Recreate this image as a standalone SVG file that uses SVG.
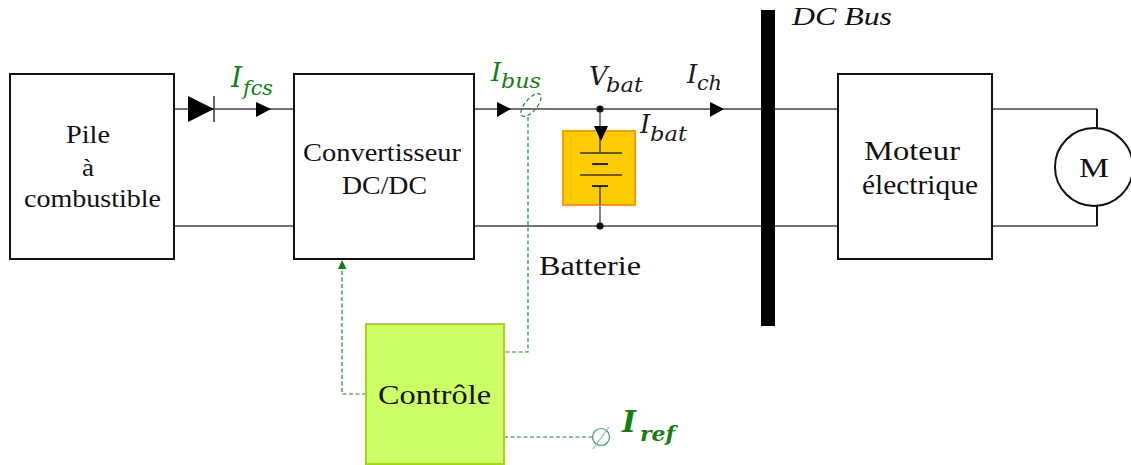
<svg xmlns="http://www.w3.org/2000/svg" width="1131" height="465" viewBox="0 0 1131 465">
<defs><style>
text{font-family:"Liberation Serif","Times New Roman",serif;fill:#111}
.box{fill:#fff;stroke:#111;stroke-width:2}
.lbl{font-size:26px}
.math{font-family:"DejaVu Serif","Liberation Serif",serif;font-style:italic;fill:#1a1a1a}
.g{fill:#118011}
.wire{fill:none;stroke:#444;stroke-width:1.3}
.dash{fill:none;stroke:#1b8a2a;stroke-width:1.2;stroke-dasharray:4 2.5}
.tri{fill:#000}
</style></defs>
<rect width="1131" height="465" fill="#fff"/>
<g id="connectors">
<path class="wire" d="M174 109H294M174 226H294M474 109H838M474 226H838M992 109H1097M992 226H1097"/>
<path d="M1097 109V128M1097 206V226" stroke="#111" stroke-width="2" fill="none"/>
<path class="wire" d="M600 109V226" stroke-width="1.5"/>
<path class="tri" d="M188 96L214 109L188 122Z"/>
<path d="M214 96V122" stroke="#333" stroke-width="1.5"/>
<path class="tri" d="M256 102L271 109L256 117Z"/>
<path class="tri" d="M497 102L511 109L497 117Z"/>
<path class="tri" d="M710 102L724 109L710 117Z"/>
<circle cx="600" cy="109" r="3.6" fill="#111"/>
<circle cx="600" cy="226" r="3.6" fill="#111"/>
<path class="dash" d="M528 117V352H504"/>
<ellipse class="dash" cx="531" cy="105" rx="6" ry="14" transform="rotate(40 531 105)"/>
<path class="dash" d="M366 394H342V268"/>
<path d="M338 269L342 260L346.500 269Z" fill="#118011"/>
<path class="dash" d="M504 437H593"/>
</g>
<g id="pile"><rect class="box" x="10" y="74" width="164" height="185"/>
<text class="lbl" x="66" y="143" textLength="44" lengthAdjust="spacingAndGlyphs">Pile</text><text class="lbl" x="82" y="176" textLength="12" lengthAdjust="spacingAndGlyphs">à</text><text class="lbl" x="24" y="207" textLength="137" lengthAdjust="spacingAndGlyphs">combustible</text></g>
<g id="convertisseur"><rect class="box" x="294" y="74" width="180" height="185"/>
<text class="lbl" x="303" y="161" textLength="158" lengthAdjust="spacingAndGlyphs">Convertisseur</text><text class="lbl" x="342" y="194" textLength="85" lengthAdjust="spacingAndGlyphs">DC/DC</text></g>
<g id="batterie"><rect x="563" y="131" width="72" height="74" fill="#ffcc00" stroke="#ff9900" stroke-width="2"/>
<path d="M600 131V153M600 187V205" stroke="#333" stroke-width="1.300"/>
<path d="M580 153H622M580 175H622" stroke="#333" stroke-width="1.300"/>
<path d="M592 164H608M592 186H608" stroke="#222" stroke-width="2"/>
<path class="tri" d="M594 126L608 126L601 141Z"/>
<text x="539" y="275" font-size="27" textLength="102" lengthAdjust="spacingAndGlyphs">Batterie</text></g>
<g id="bus"><rect x="761" y="10" width="14" height="316" fill="#000"/>
<text x="792" y="25" font-size="26" font-style="italic" textLength="100" lengthAdjust="spacingAndGlyphs">DC Bus</text></g>
<g id="moteur"><rect class="box" x="838" y="74" width="154" height="185"/>
<text x="864" y="160" font-size="28" textLength="96" lengthAdjust="spacingAndGlyphs">Moteur</text><text x="862" y="194" font-size="28" textLength="116" lengthAdjust="spacingAndGlyphs">électrique</text></g>
<g id="motor"><circle cx="1094" cy="167" r="39" fill="#fff" stroke="#111" stroke-width="2"/>
<text x="1079" y="177" font-size="28" textLength="30" lengthAdjust="spacingAndGlyphs">M</text></g>
<g id="controle"><rect x="366" y="324" width="138" height="140" fill="#ccff66" stroke="#a5d610" stroke-width="2"/>
<text x="378" y="404" font-size="28" textLength="113" lengthAdjust="spacingAndGlyphs">Contrôle</text></g>
<g id="iref"><circle cx="601" cy="437" r="8.500" fill="none" stroke="#3c9a55" stroke-width="1.200"/>
<path d="M593 449L609 427" stroke="#8ab0dc" stroke-width="1.200"/>
<text class="math g" x="622" y="432" font-size="30" font-weight="bold">I<tspan x="640" y="441" font-size="20" textLength="35" lengthAdjust="spacingAndGlyphs">ref</tspan></text></g>
<g id="labels">
<text class="math g" x="231" y="87" font-size="28">I<tspan x="243" y="95" font-size="20" textLength="30" lengthAdjust="spacingAndGlyphs">fcs</tspan></text>
<text class="math g" x="491" y="81" font-size="26">I<tspan x="501" y="88" font-size="20" textLength="40" lengthAdjust="spacingAndGlyphs">bus</tspan></text>
<text class="math" x="589" y="85" font-size="26">V<tspan x="606" y="92" font-size="20" textLength="37" lengthAdjust="spacingAndGlyphs">bat</tspan></text>
<text class="math" x="687" y="83" font-size="26">I<tspan x="697" y="90" font-size="20" textLength="25" lengthAdjust="spacingAndGlyphs">ch</tspan></text>
<text class="math" x="640" y="133" font-size="26">I<tspan x="650" y="141" font-size="20" textLength="37" lengthAdjust="spacingAndGlyphs">bat</tspan></text>
</g>
</svg>
